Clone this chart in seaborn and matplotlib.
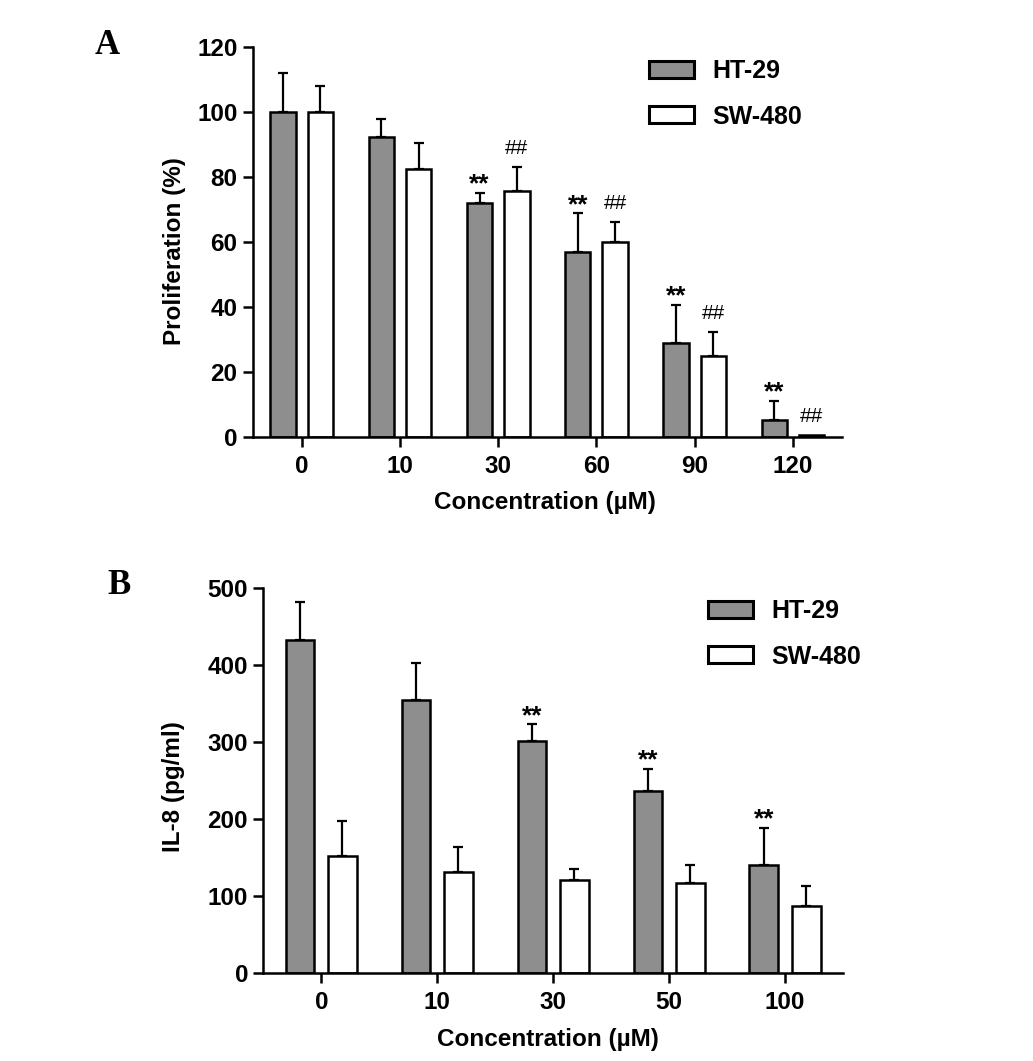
import numpy as np
import pandas as pd
import matplotlib
matplotlib.use("Agg")
import matplotlib.pyplot as plt
from matplotlib.patches import Patch
import seaborn as sns

# ---- data ----
lines = ["HT-29", "SW-480"]

conc_a = ["0", "10", "30", "60", "90", "120"]
ht29_a = [100.0, 92.3, 72.0, 56.7, 28.7, 5.1]
ht29_a_err = [12.0, 5.6, 3.1, 12.0, 11.8, 6.0]
sw480_a = [100.0, 82.3, 75.5, 59.8, 24.9, 0.5]
sw480_a_err = [7.9, 8.2, 7.4, 6.2, 7.2, 0.0]
sig_ht_a = ["", "", "**", "**", "**", "**"]
sig_sw_a = ["", "", "##", "##", "##", "##"]
yticks_a = [0, 20, 40, 60, 80, 100, 120]

conc_b = ["0", "10", "30", "50", "100"]
ht29_b = [432.0, 354.0, 301.0, 236.0, 140.0]
ht29_b_err = [50.0, 48.0, 22.0, 29.0, 48.0]
sw480_b = [152.0, 131.0, 121.0, 116.0, 87.0]
sw480_b_err = [45.0, 33.0, 14.0, 24.0, 26.0]
sig_ht_b = ["", "", "**", "**", "**"]
sig_sw_b = ["", "", "", "", ""]
yticks_b = [0, 100, 200, 300, 400, 500]

colors = {"HT-29": "#8e8e8e", "SW-480": "#ffffff"}

sns.set_theme(style="ticks")
plt.rcParams["font.family"] = ["Liberation Sans", "DejaVu Sans"]
plt.rcParams["font.weight"] = "bold"
plt.rcParams["axes.labelweight"] = "bold"
for k in ["text.color", "axes.labelcolor", "xtick.color", "ytick.color",
          "axes.edgecolor"]:
    plt.rcParams[k] = "black"

W, H = 1033, 1061
fig = plt.figure(figsize=(W / 100, H / 100), dpi=100)
axA = fig.add_axes([252.7 / W, 1 - 436.7 / H, (842 - 252.7) / W, (436.7 - 46.7) / H])
axB = fig.add_axes([263.3 / W, 1 - 972.7 / H, (843 - 263.3) / W, (972.7 - 588) / H])

# style of significance marks: (fontsize, weight, offset in points)
sig_style = {"**": (19, "bold", 6.0), "##": (15, "normal", 13.5)}


def draw(ax, conc, ht, hterr, sw, swerr, sig_ht, sig_sw, yticks, ylabel,
         width, gap, leg_xy, ylab_xy, xlab_xy):
    n = len(conc)
    df = pd.DataFrame({
        "conc": conc + conc,
        "line": [lines[0]] * n + [lines[1]] * n,
        "value": ht + sw,
    })
    sns.barplot(data=df, x="conc", y="value", hue="line", order=conc,
                hue_order=lines, palette=colors, edgecolor="black",
                linewidth=1.8, width=width, gap=gap, errorbar=None,
                saturation=1, legend=False, ax=ax, zorder=2)
    for cont, errs, sigs in zip(ax.containers, [hterr, swerr], [sig_ht, sig_sw]):
        for bar, e, s in zip(cont, errs, sigs):
            x = bar.get_x() + bar.get_width() / 2
            h = bar.get_height()
            if e > 0:
                ax.errorbar(x, h, yerr=[[0], [e]], fmt="none", ecolor="black",
                            elinewidth=1.6, capsize=3.5, capthick=1.6, zorder=1)
            if s:
                fs, fw, off = sig_style[s]
                ax.annotate(s, (x, h + e), xytext=(0, off),
                            textcoords="offset points", ha="center",
                            va="center", fontsize=fs, fontweight=fw)
    ax.set_xlim(-0.5, n - 0.5)
    ax.set_ylim(0, yticks[-1])
    ax.set_yticks(yticks)
    sns.despine(ax=ax)
    for sp in ["left", "bottom"]:
        ax.spines[sp].set_linewidth(1.8)
        ax.spines[sp].set_color("black")
    ax.tick_params(axis="both", width=1.8, length=7, labelsize=17.5,
                   color="black", labelcolor="black")
    ax.tick_params(axis="x", pad=6)
    ax.tick_params(axis="y", pad=4)
    for lab in ax.get_xticklabels() + ax.get_yticklabels():
        lab.set_fontweight("bold")
    ax.set_xlabel("Concentration (\u00b5M)", fontsize=17.5, fontweight="bold",
                  color="black")
    ax.set_ylabel(ylabel, fontsize=17.5, fontweight="bold", color="black")
    ax.yaxis.set_label_coords(*ylab_xy)
    ax.xaxis.set_label_coords(*xlab_xy)
    handles = [Patch(facecolor=colors[l], edgecolor="black", linewidth=2.2)
               for l in lines]
    leg = ax.legend(handles, lines, loc="center left",
                    bbox_to_anchor=(leg_xy[0] / W, 1 - leg_xy[1] / H),
                    bbox_transform=fig.transFigure, frameon=False,
                    prop={"size": 18, "weight": "bold"}, handlelength=1.8,
                    handleheight=0.68, handletextpad=0.75, labelspacing=0.85,
                    borderpad=0, borderaxespad=0)
    for t in leg.get_texts():
        t.set_color("black")


draw(axA, conc_a, ht29_a, ht29_a_err, sw480_a, sw480_a_err, sig_ht_a, sig_sw_a,
     yticks_a, "Proliferation (%)", 0.76, 0.32, (649, 94),
     (-0.113, 0.476), (0.496, -0.139))
draw(axB, conc_b, ht29_b, ht29_b_err, sw480_b, sw480_b_err, sig_ht_b, sig_sw_b,
     yticks_b, "IL-8 (pg/ml)", 0.73, 0.32, (708, 634),
     (-0.135, 0.485), (0.491, -0.144))

fig.text(107 / W, 1 - 45 / H, "A", family=["Liberation Serif", "DejaVu Serif"],
         fontsize=25, fontweight="bold", ha="center", va="center", color="black")
fig.text(119 / W, 1 - 586 / H, "B", family=["Liberation Serif", "DejaVu Serif"],
         fontsize=25, fontweight="bold", ha="center", va="center", color="black")

fig.savefig("out.png", dpi=100, facecolor="white")
